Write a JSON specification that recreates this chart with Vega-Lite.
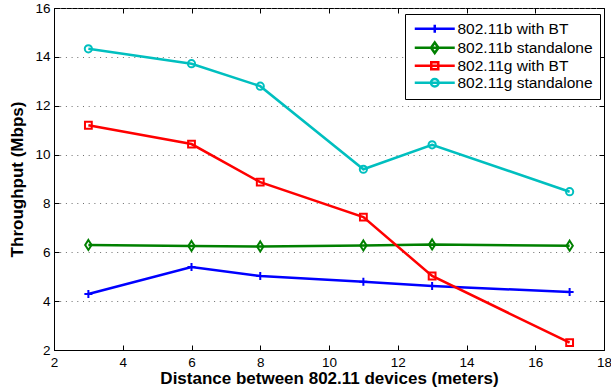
{
  "$schema": "https://vega.github.io/schema/vega-lite/v6.json",
  "autosize": "none",
  "width": 550,
  "height": 342,
  "padding": {"left": 54, "top": 8, "right": 7, "bottom": 41},
  "background": "white",
  "config": {
    "view": {"stroke": "black", "strokeWidth": 1},
    "font": "Liberation Sans",
    "axis": {
      "labelFont": "Liberation Sans",
      "titleFont": "Liberation Sans",
      "labelFontSize": 13.5,
      "labelColor": "black",
      "titleColor": "black",
      "titleFontWeight": "bold",
      "titleFontSize": 17,
      "domainColor": "black",
      "tickColor": "black",
      "tickSize": -5,
      "grid": false
    }
  },
  "data": {
    "values": [
      {"d": 3, "tput": 4.29, "series": "802.11b with BT"},
      {"d": 6, "tput": 5.40, "series": "802.11b with BT"},
      {"d": 8, "tput": 5.03, "series": "802.11b with BT"},
      {"d": 11, "tput": 4.79, "series": "802.11b with BT"},
      {"d": 13, "tput": 4.62, "series": "802.11b with BT"},
      {"d": 17, "tput": 4.37, "series": "802.11b with BT"},
      {"d": 3, "tput": 6.30, "series": "802.11b standalone"},
      {"d": 6, "tput": 6.26, "series": "802.11b standalone"},
      {"d": 8, "tput": 6.24, "series": "802.11b standalone"},
      {"d": 11, "tput": 6.28, "series": "802.11b standalone"},
      {"d": 13, "tput": 6.32, "series": "802.11b standalone"},
      {"d": 17, "tput": 6.27, "series": "802.11b standalone"},
      {"d": 3, "tput": 11.2, "series": "802.11g with BT"},
      {"d": 6, "tput": 10.43, "series": "802.11g with BT"},
      {"d": 8, "tput": 8.87, "series": "802.11g with BT"},
      {"d": 11, "tput": 7.44, "series": "802.11g with BT"},
      {"d": 13, "tput": 5.03, "series": "802.11g with BT"},
      {"d": 17, "tput": 2.30, "series": "802.11g with BT"},
      {"d": 3, "tput": 14.33, "series": "802.11g standalone"},
      {"d": 6, "tput": 13.72, "series": "802.11g standalone"},
      {"d": 8, "tput": 12.8, "series": "802.11g standalone"},
      {"d": 11, "tput": 9.4, "series": "802.11g standalone"},
      {"d": 13, "tput": 10.4, "series": "802.11g standalone"},
      {"d": 17, "tput": 8.48, "series": "802.11g standalone"}
    ]
  },
  "layer": [
    {
      "mark": {"type": "line", "strokeWidth": 2.5},
      "encoding": {
        "x": {
          "field": "d", "type": "quantitative",
          "scale": {"domain": [2, 18], "nice": false, "zero": false},
          "axis": {"orient": "bottom", "values": [2, 4, 6, 8, 10, 12, 14, 16, 18], "title": "Distance between 802.11 devices (meters)", "labelPadding": 10, "titlePadding": 2, "labelFlush": false}
        },
        "y": {
          "field": "tput", "type": "quantitative",
          "scale": {"domain": [2, 16], "nice": false, "zero": false},
          "axis": {"orient": "left", "values": [2, 4, 6, 8, 10, 12, 14, 16], "title": "Throughput (Mbps)", "labelPadding": 9, "titlePadding": 8, "labelFlush": false, "grid": true, "gridColor": "#6e6e6e", "gridDash": [1, 4.7], "gridWidth": 1, "gridOpacity": 1}
        },
        "color": {
          "field": "series", "type": "nominal",
          "scale": {
            "domain": ["802.11b with BT", "802.11b standalone", "802.11g with BT", "802.11g standalone"],
            "range": ["#0000ff", "#008000", "#ff0000", "#00bfbf"]
          },
          "legend": {
            "title": null,
            "orient": "none",
            "legendX": 351,
            "legendY": 6,
            "padding": 7,
            "rowPadding": -1,
            "strokeColor": "black",
            "fillColor": "white",
            "labelFont": "Liberation Sans",
            "labelFontSize": 15.5,
            "labelColor": "black",
            "labelOffset": 30,
            "symbolSize": 100,
            "symbolStrokeWidth": 2.5,
            "encode": {
              "symbols": {
                "update": {
                  "fill": {"value": "transparent"},
                  "shape": {"signal": "datum.value === '802.11b with BT' ? 'M-1,0H7M3,-0.8V0.8' : datum.value === '802.11b standalone' ? 'M-1,0H7M3,-1.05L3.75,0L3,1.05L2.25,0Z' : datum.value === '802.11g with BT' ? 'M-1,0H7M2.3,-0.7H3.7V0.7H2.3Z' : 'M-1,0H7M3.75,0A0.75,0.75 0 1,1 2.25,0A0.75,0.75 0 1,1 3.75,0Z'"}
                }
              }
            }
          }
        }
      }
    },
    {
      "transform": [{"filter": "datum.series === '802.11b with BT'"}],
      "mark": {"type": "point", "filled": false, "strokeWidth": 2, "size": 64, "opacity": 1, "shape": "M-1,0H1M0,-1V1"},
      "encoding": {
        "x": {
          "field": "d", "type": "quantitative",
          "axis": {"orient": "top", "values": [2, 4, 6, 8, 10, 12, 14, 16, 18], "labels": false, "title": null, "domain": false}
        },
        "y": {
          "field": "tput", "type": "quantitative",
          "axis": {"orient": "right", "values": [2, 4, 6, 8, 10, 12, 14, 16], "labels": false, "title": null, "domain": false}
        },
        "color": {"field": "series", "type": "nominal", "legend": null}
      }
    },
    {
      "transform": [{"filter": "datum.series === '802.11b standalone'"}],
      "mark": {"type": "point", "filled": false, "strokeWidth": 2, "size": 64, "opacity": 1, "shape": "M0,-1.25L0.8,0L0,1.25L-0.8,0Z"},
      "encoding": {
        "x": {"field": "d", "type": "quantitative", "axis": null},
        "y": {"field": "tput", "type": "quantitative", "axis": null},
        "color": {"field": "series", "type": "nominal", "legend": null}
      }
    },
    {
      "transform": [{"filter": "datum.series === '802.11g with BT'"}],
      "mark": {"type": "point", "filled": false, "strokeWidth": 2, "size": 64, "opacity": 1, "shape": "M-0.85,-0.85H0.85V0.85H-0.85Z"},
      "encoding": {
        "x": {"field": "d", "type": "quantitative", "axis": null},
        "y": {"field": "tput", "type": "quantitative", "axis": null},
        "color": {"field": "series", "type": "nominal", "legend": null}
      }
    },
    {
      "transform": [{"filter": "datum.series === '802.11g standalone'"}],
      "mark": {"type": "point", "filled": false, "strokeWidth": 2, "size": 64, "opacity": 1, "shape": "M0.9,0A0.9,0.9 0 1,1 -0.9,0A0.9,0.9 0 1,1 0.9,0Z"},
      "encoding": {
        "x": {"field": "d", "type": "quantitative", "axis": null},
        "y": {"field": "tput", "type": "quantitative", "axis": null},
        "color": {"field": "series", "type": "nominal", "legend": null}
      }
    }
  ],
  "resolve": {"axis": {"x": "independent", "y": "independent"}}
}
